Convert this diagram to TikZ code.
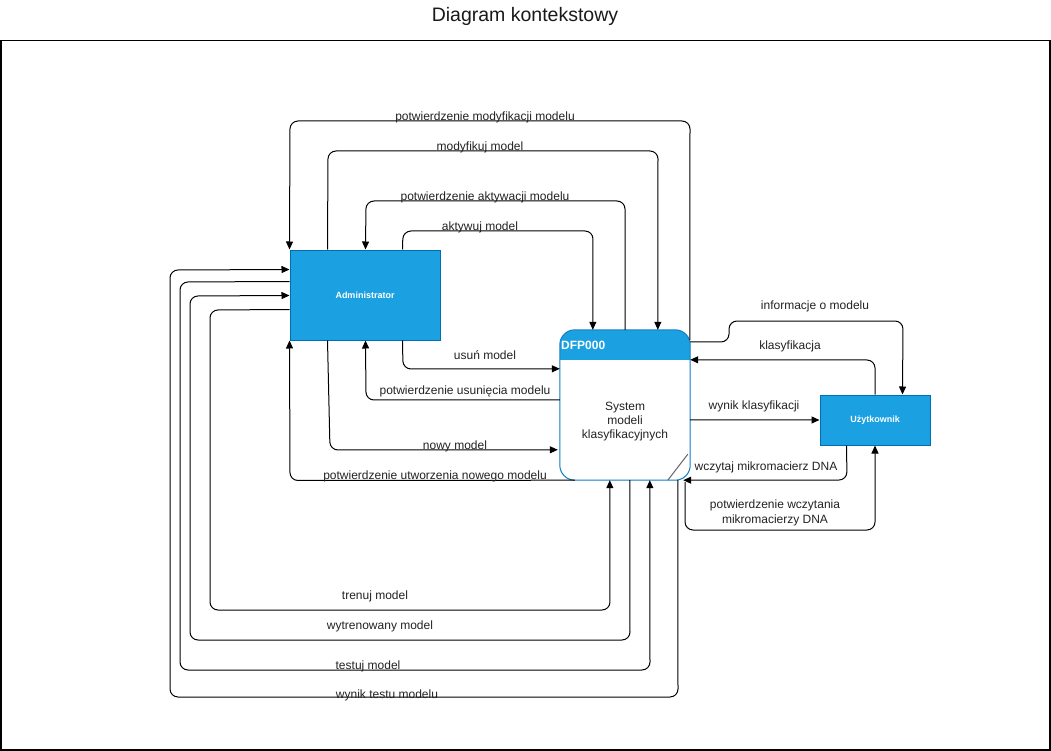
\documentclass[tikz,border=0pt]{standalone}
\usepackage{fontspec}
\setmainfont{Liberation Sans}
\usetikzlibrary{arrows.meta,calc}
\definecolor{admfill}{HTML}{1BA1E2}
\definecolor{admstroke}{HTML}{006EAF}
\definecolor{dfpstroke}{HTML}{0F7DC2}
\definecolor{lblcol}{HTML}{222222}
\begin{document}
\begin{tikzpicture}[x=1pt,y=-1pt,
  actor/.style={draw=admstroke, fill=admfill, line width=1pt, text=white,
    font=\fontsize{9}{11}\selectfont\bfseries, minimum width=150pt, minimum height=90pt, inner sep=0pt},
  lbl/.style={font=\fontsize{12}{15}\selectfont, text=lblcol, inner sep=0pt, text height=8.7pt, text depth=2.5pt, yshift=-2pt},
  lbltwo/.style={font=\fontsize{12}{15}\selectfont, text=lblcol, inner sep=0pt, align=center, yshift=-1.5pt},
  flow/.style={draw=black, line width=1pt, rounded corners=8pt, -{Triangle[length=8pt,width=7pt]}},
  plain/.style={draw=black, line width=1pt, rounded corners=8pt}]
\useasboundingbox (0,0) rectangle (1051,751);
% frame and title
\draw[line width=1.2pt] (1,40.5) rectangle (1050,750);
\node[font=\fontsize{19.5}{22}\selectfont, text=black!90] (title) at (525,16) {Diagram kontekstowy};

% entities
\node[actor] (adm) at (365,295) {Administrator};
\node[actor, minimum width=110pt, minimum height=50pt] (user) at (875,420) {Użytkownik};

% process DFP000
\node[fill=white, rounded corners=15pt, minimum width=130pt, minimum height=150pt, inner sep=0pt] (dfp) at (625,405) {};
\begin{scope}
  \clip (560,330) rectangle (690,359);
  \fill[admfill, rounded corners=15pt] (560,330) rectangle (690,400);
\end{scope}
\draw[dfpstroke, line width=1pt, rounded corners=15pt] (dfp.north west) rectangle (dfp.south east);
\node[anchor=west, font=\fontsize{12}{14}\selectfont\bfseries, text=white, inner sep=0pt] (dfph) at (561,345) {DFP000};
\node[font=\fontsize{12}{14}\selectfont, text=lblcol, align=center, inner sep=0pt] (dfpt) at (625,421.5) {System\\modeli\\klasyfikacyjnych};
\draw[black!60, line width=1pt] ($(dfp.south west)+(108,0)$) -- ($(dfp.south west)+(128,-26)$);

% top flows
\draw[flow] ($(dfp.north west)+(130,10)$) -- (690,121) -- (290,121) -- (adm.north west);
\node[lbl] (l1) at (485,115) {potwierdzenie modyfikacji modelu};
\draw[flow] ($(adm.north west)+(38,0)$) -- (328,151) -- (658,151) -- ($(dfp.north west)+(98,0)$);
\node[lbl] (l2) at (480,145) {modyfikuj model};
\draw[flow] (dfp.north) -- (625,201) -- (366,201) -- ($(adm.north west)+(76,0)$);
\node[lbl] (l3) at (485,195) {potwierdzenie aktywacji modelu};
\draw[flow] ($(adm.north west)+(113,0)$) -- (403,231) -- (593,231) -- ($(dfp.north west)+(33,0)$);
\node[lbl] (l4) at (480,225) {aktywuj model};

% middle flows
\draw[flow] ($(adm.south west)+(113,0)$) -- (403,369) -- ($(dfp.north west)+(0,39)$);
\node[lbl] (l5) at (485,354) {usuń model};
\draw[flow] ($(dfp.north west)+(0,70)$) -- (366,400) -- ($(adm.south west)+(76,0)$);
\node[lbl] (l6) at (465,389) {potwierdzenie usunięcia modelu};
\draw[flow] ($(adm.south west)+(38,0)$) -- (330,450) -- ($(dfp.north west)+(-2,120)$);
\node[lbl] (l7) at (455,444) {nowy model};
\draw[flow] ($(dfp.south west)+(15,0)$) -- (290,480.5) -- (adm.south west);
\node[lbl] (l8) at (435,474) {potwierdzenie utworzenia nowego modelu};

% bottom loops
\draw[flow] ($(adm.north west)+(0,60)$) -- (210,310) -- (210,610) -- (610,610) -- ($(dfp.south west)+(50,0)$);
\node[lbl] (l9) at (375,594) {trenuj model};
\draw[flow] ($(dfp.south west)+(70,0)$) -- (630,640) -- (190,640) -- (190,296) -- ($(adm.north west)+(0,46)$);
\node[lbl] (l10) at (380,624) {wytrenowany model};
\draw[flow] ($(adm.north west)+(0,32)$) -- (180,282) -- (180,670) -- (650,670) -- ($(dfp.south west)+(90,0)$);
\node[lbl] (l11) at (368,664) {testuj model};
\draw[flow] ($(dfp.south west)+(118,0)$) -- (678,697) -- (170,697) -- (170,270) -- ($(adm.north west)+(0,20)$);
\node[lbl] (l12) at (387,693) {wynik testu modelu};

% right side flows
\draw[flow] ($(dfp.north east)+(0,12)$) -- (729,342) -- (729,321) -- (903,321) -- ($(user.north west)+(83,0)$);
\node[lbl] (l13) at (815,304) {informacje o modelu};
\draw[flow] (user.north) -- (875,360) -- ($(dfp.north east)+(0,30)$);
\node[lbl] (l14) at (790,344) {klasyfikacja};
\draw[flow] ($(dfp.north east)+(0,90)$) -- (user.west);
\node[lbl] (l15) at (754,404) {wynik klasyfikacji};
\draw[flow] ($(user.south west)+(27,0)$) -- (847,480) -- ($(dfp.south east)+(-7,0)$);
\node[lbl] (l16) at (766,465) {wczytaj mikromacierz DNA};
\draw[flow] ($(dfp.south east)+(-5,2)$) -- (685,530) -- (875,530) -- (user.south);
\node[lbltwo] (l17) at (775,511) {potwierdzenie wczytania\\mikromacierzy DNA};
\end{tikzpicture}
\end{document}
